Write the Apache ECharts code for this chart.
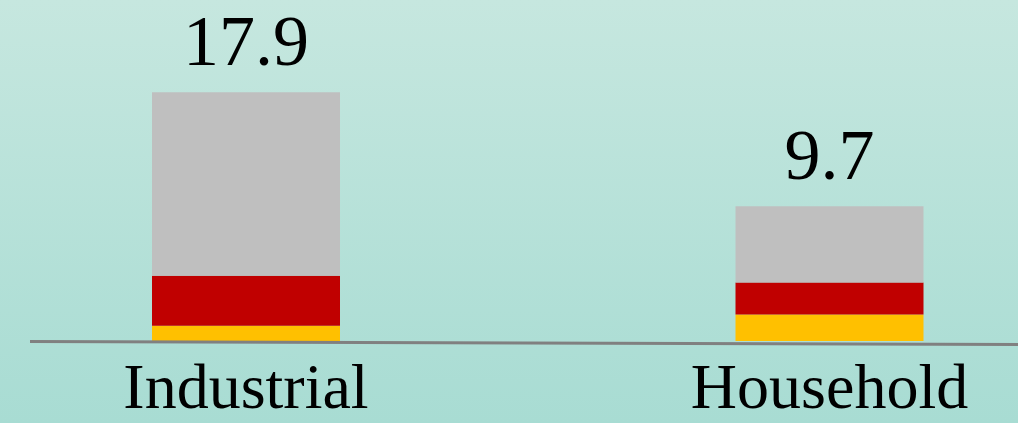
<!DOCTYPE html>
<html>
<head>
<meta charset="utf-8">
<script src="https://cdn.jsdelivr.net/npm/echarts@6/dist/echarts.min.js"></script>
<style>
html,body{margin:0;padding:0;}
#chart{width:1018px;height:423px;}
</style>
</head>
<body>
<div id="chart"></div>
<script>
const categories = ['Industrial', 'Household'];
const yellowValues = [1.1, 1.9];
const redValues = [3.6, 2.3];
const grayValues = [13.2, 5.5];

const totals = categories.map((c, i) => yellowValues[i] + redValues[i] + grayValues[i]);

const chart = echarts.init(document.getElementById('chart'), null, {renderer: 'canvas'});
const serif = "'Liberation Serif', 'Times New Roman', 'DejaVu Serif', serif";

chart.setOption({
  animation: false,
  backgroundColor: new echarts.graphic.LinearGradient(0, 0, 0, 1, [
    {offset: 0, color: '#c6e7df'},
    {offset: 1, color: '#a8dcd3'}
  ]),
  grid: {left: 246, right: 188.5, top: 63, bottom: 81, containLabel: false},
  xAxis: {
    type: 'category',
    data: categories,
    boundaryGap: false,
    axisLine: {show: false},
    axisTick: {show: false},
    splitLine: {show: false},
    axisLabel: {fontFamily: serif, fontSize: 64, color: '#000', margin: 18, interval: 0}
  },
  yAxis: {
    type: 'value',
    min: 0,
    max: 20,
    show: false,
    splitLine: {show: false}
  },
  graphic: [{
    type: 'line',
    shape: {x1: 30, y1: 341.5, x2: 1018, y2: 344.5},
    style: {stroke: '#808080', lineWidth: 3},
    z: 10
  }],
  series: [
    {type: 'bar', stack: 't', data: yellowValues, barWidth: 188, clip: false, itemStyle: {color: '#ffc000'}},
    {type: 'bar', stack: 't', data: redValues, barWidth: 188, clip: false, itemStyle: {color: '#c00000'}},
    {type: 'bar', stack: 't', data: grayValues, barWidth: 188, clip: false, itemStyle: {color: '#bfbfbf'},
      label: {
        show: true, position: 'top', distance: 10,
        fontFamily: serif, fontSize: 72, color: '#000',
        formatter: p => totals[p.dataIndex].toFixed(1)
      }
    }
  ]
});
</script>
</body>
</html>
